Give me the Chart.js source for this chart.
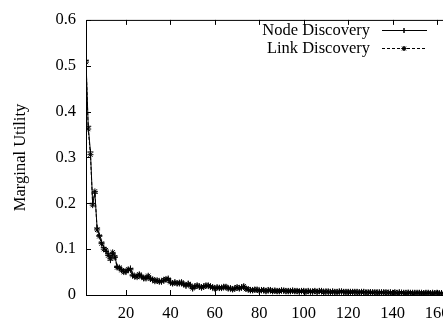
<!DOCTYPE html>
<html>
<head>
<meta charset="utf-8">
<script src="https://cdn.jsdelivr.net/npm/chart.js@4"></script>
<style>
html,body{margin:0;padding:0;background:#fff;overflow:hidden;width:443px;height:320px;}
#wrap{width:500px;height:320px;}
</style>
</head>
<body>
<div id="wrap"><canvas id="c" width="500" height="320"></canvas></div>
<script>
// ---- data ----
const xStart = 2;
const nodeDiscovery = [
0.512,0.368,0.312,0.200,0.222,0.146,0.130,0.115,0.104,0.095,
0.090,0.076,0.090,0.085,0.062,0.058,0.056,0.052,0.050,0.054,
0.058,0.042,0.040,0.042,0.044,0.041,0.036,0.038,0.040,0.036,
0.033,0.032,0.031,0.030,0.029,0.031,0.033,0.036,0.027,0.026,
0.028,0.025,0.027,0.026,0.024,0.020,0.025,0.022,0.014,0.019,
0.020,0.018,0.017,0.019,0.020,0.021,0.019,0.016,0.015,0.017,
0.015,0.016,0.018,0.017,0.015,0.014,0.013,0.015,0.016,0.015,
0.017,0.018,0.014,0.012,0.011,0.010,0.012,0.011,0.010,0.011,
0.010,0.009,0.011,0.010,0.009,0.010,0.008,0.009,0.010,0.009,
0.008,0.009,0.008,0.010,0.009,0.008,0.007,0.009,0.008,0.008,
0.009,0.007,0.008,0.008,0.007,0.009,0.008,0.007,0.008,0.007,
0.007,0.008,0.006,0.007,0.008,0.007,0.006,0.007,0.007,0.006,
0.007,0.006,0.007,0.006,0.006,0.007,0.006,0.005,0.006,0.006,
0.005,0.006,0.006,0.005,0.006,0.005,0.005,0.006,0.005,0.005,
0.005,0.006,0.005,0.004,0.005,0.005,0.004,0.005,0.005,0.004,
0.005,0.004,0.004,0.005,0.004,0.004,0.005,0.004,0.004,0.004,
0.004,0.004,0.003,0.004,0.004,0.003,0.004,0.004,0.003,0.004,
0.003,0.004,0.003,0.003,0.004,0.003,0.003,0.003,0.003
];
const linkDiscovery = [
0.508,0.362,0.306,0.196,0.226,0.142,0.128,0.112,0.100,0.098,
0.086,0.080,0.093,0.082,0.060,0.060,0.054,0.050,0.052,0.056,
0.055,0.044,0.041,0.039,0.045,0.040,0.037,0.036,0.042,0.035,
0.034,0.030,0.032,0.029,0.030,0.033,0.035,0.034,0.028,0.025,
0.027,0.026,0.025,0.028,0.023,0.021,0.024,0.020,0.015,0.018,
0.021,0.019,0.016,0.018,0.021,0.020,0.018,0.017,0.014,0.016,
0.016,0.015,0.017,0.018,0.014,0.015,0.012,0.014,0.017,0.014,
0.016,0.019,0.013,0.013,0.010,0.011,0.011,0.012,0.009,0.010,
0.011,0.008,0.010,0.011,0.008,0.009,0.009,0.008,0.010,0.010,
0.009,0.008,0.009,0.009,0.008,0.009,0.008,0.008,0.009,0.007,
0.008,0.008,0.007,0.009,0.007,0.008,0.009,0.006,0.007,0.008,
0.006,0.007,0.007,0.006,0.007,0.008,0.007,0.006,0.006,0.007,
0.006,0.007,0.006,0.005,0.007,0.006,0.005,0.006,0.006,0.005,
0.006,0.005,0.005,0.006,0.005,0.006,0.005,0.005,0.004,0.006,
0.004,0.005,0.005,0.005,0.004,0.005,0.005,0.004,0.004,0.005,
0.004,0.005,0.004,0.004,0.005,0.004,0.004,0.004,0.005,0.003,
0.004,0.003,0.004,0.004,0.003,0.004,0.003,0.004,0.004,0.003,
0.004,0.003,0.003,0.004,0.003,0.003,0.004,0.003,0.003
];
const xTickValues = [20,40,60,80,100,120,140,160];
const yTickValues = [0,0.1,0.2,0.3,0.4,0.5,0.6];
const seriesLabels = ['Node Discovery','Link Discovery'];
const yTitle = 'Marginal Utility';

// ---- build ----
const toPoints = arr => arr.map((v,i)=>({x: xStart + i, y: v}));
const FONT = {family: '"Liberation Serif", "Times New Roman", serif', size: 16.5};

const framePlugin = {
  id: 'frame',
  afterDatasetsDraw(chart){
    const {ctx, chartArea:a, scales:{x, y}} = chart;
    ctx.save();
    ctx.strokeStyle = '#000';
    ctx.lineWidth = 1;
    ctx.setLineDash([]);
    ctx.beginPath();
    ctx.moveTo(a.right+20, a.top+0.5); ctx.lineTo(a.left+0.5, a.top+0.5);
    ctx.lineTo(a.left+0.5, a.bottom+0.5); ctx.lineTo(a.right+20, a.bottom+0.5);
    const tl = 5;
    yTickValues.forEach(v=>{
      const py = Math.round(y.getPixelForValue(v))+0.5;
      ctx.moveTo(a.left, py); ctx.lineTo(a.left+tl, py);
    });
    xTickValues.forEach(v=>{
      const px = Math.round(x.getPixelForValue(v))+0.5;
      ctx.moveTo(px, a.bottom); ctx.lineTo(px, a.bottom-tl);
      ctx.moveTo(px, a.top); ctx.lineTo(px, a.top+tl);
    });
    ctx.stroke();

    // legend
    ctx.font = FONT.size + 'px ' + FONT.family;
    ctx.fillStyle = '#000';
    ctx.textAlign = 'right';
    ctx.textBaseline = 'middle';
    const rows = [30, 48];
    chart.data.datasets.forEach((ds, i)=>{
      const yy = rows[i];
      ctx.fillText(ds.label, 370, yy+1);
      ctx.beginPath();
      ctx.setLineDash(ds.borderDash || []);
      ctx.lineWidth = 1;
      ctx.moveTo(382, yy+0.5); ctx.lineTo(427, yy+0.5);
      ctx.stroke();
      ctx.setLineDash([]);
      Chart.helpers.drawPoint(ctx, {pointStyle: ds.pointStyle, radius: 2.5, borderWidth: 1, rotation: 0}, 404, yy+0.5);
      ctx.stroke();
    });
    ctx.restore();
  }
};

new Chart(document.getElementById('c'), {
  type: 'line',
  data: {
    datasets: [
      {label: seriesLabels[0], data: toPoints(nodeDiscovery), borderColor:'#000', backgroundColor:'#000',
       borderWidth:1, pointStyle:'cross', pointRadius:3, pointBorderWidth:1, tension:0, fill:false},
      {label: seriesLabels[1], data: toPoints(linkDiscovery), borderColor:'#000', backgroundColor:'#000',
       borderWidth:1, borderDash:[3,2], pointStyle:'star', pointRadius:3, pointBorderWidth:1, tension:0, fill:false}
    ]
  },
  options: {
    responsive: false,
    animation: false,
    devicePixelRatio: 1,
    layout: {padding: {top: 15, right: 18.5, left: 0, bottom: 0}},
    plugins: {legend: {display:false}, tooltip: {enabled:false}},
    scales: {
      x: {
        type: 'linear', min: 2, max: 180,
        afterBuildTicks: s => { s.ticks = xTickValues.map(v=>({value:v})); },
        afterFit: s => { s.height = 25; },
        ticks: {autoSkip:false, maxRotation:0, color:'#000', font: FONT, padding: 9},
        grid: {display:false, drawTicks:false},
        border: {display:false}
      },
      y: {
        min: 0, max: 0.6,
        afterBuildTicks: s => { s.ticks = yTickValues.map(v=>({value:v})); },
        afterFit: s => { s.width = 86; },
        ticks: {color:'#000', font: FONT, padding: 10, callback: v => v === 0 ? '0' : v.toFixed(1)},
        grid: {display:false, drawTicks:false},
        border: {display:false},
        title: {display:true, text: yTitle, color:'#000', font: FONT, padding: {top:11, bottom:0}}
      }
    }
  },
  plugins: [framePlugin]
});
</script>
</body>
</html>
